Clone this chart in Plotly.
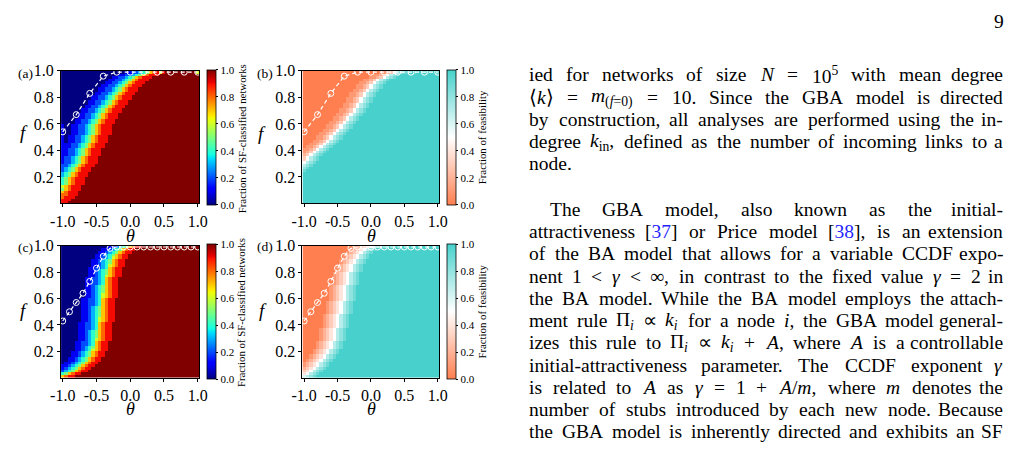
import re
import plotly.graph_objects as go

W_PX, H_PX = 1023, 449
SERIF = "Liberation Serif"

# ---------------- data ----------------
# grid of the heat maps: theta (columns) and f (rows, bottom to top)
THETA = [round(-1.0 + 0.05 * j, 2) for j in range(41)]
F_ROWS = [round(0.01 + 0.02 * i, 2) for i in range(50)]

# each row: (number of leading 0.0 cells, explicit cell codes); remaining cells are 1.0
# codes: '0'..'9' -> 0.0..0.9, 'X' -> 1.0
LEVEL = {"0": 0.0, "1": 0.1, "2": 0.2, "3": 0.3, "4": 0.4, "5": 0.5,
         "6": 0.6, "7": 0.7, "8": 0.8, "9": 0.9, "X": 1.0}

SF_A_ROWS = [
    (0, "99"), (0, "999"), (0, "8999"), (0, "88999"), (0, "78999"),
    (0, "578999"), (0, "678999"), (0, "4578999"), (0, "4578999"), (0, "4578999"),
    (0, "34578999"), (0, "34578999"), (0, "234578999"), (0, "234578999"), (0, "2234578999"),
    (0, "12234578999"), (0, "12234578999"), (0, "12234578999"), (0, "112234578999"), (0, "112234578999"),
    (0, "112234578999"), (0, "1112234578999"), (0, "1112234578999"), (0, "10112234578999"), (0, "10112234578999"),
    (0, "10112234578999"), (0, "100112234578999"), (0, "100112234578999"), (0, "100112234578999"), (0, "100112234578999"),
    (4, "112234578999"), (4, "112234578999"), (5, "112234578999"), (5, "112234578999"), (6, "112234578999"),
    (6, "112234578999"), (7, "112234578999"), (8, "112234578999"), (8, "112234578999"), (9, "112234578999"),
    (9, "112234578999"), (10, "112234578999"), (11, "112234578999"), (11, "112234578999"), (12, "112234578999"),
    (13, "112234578999"), (14, "112234578999"), (15, "112234578999"), (17, "112234578999"),
    (19, "112234578969XXXXXXXXX6"),
]

FEAS_B_ROWS = [
    (0, ""), (0, ""), (0, ""), (0, ""), (0, ""),
    (0, ""), (0, ""), (0, ""), (0, ""), (0, ""),
    (0, ""), (0, ""), (0, "9"), (0, "89"), (0, "789"),
    (0, "5789"), (0, "35789"), (0, "35789"), (0, "235789"), (0, "1235789"),
    (0, "11235789"), (1, "11235789"), (2, "11235789"), (3, "11235789"), (4, "11235789"),
    (4, "11235789"), (5, "11235789"), (6, "11235789"), (7, "11235789"), (7, "11235789"),
    (8, "11235789"), (9, "11235789"), (9, "11235789"), (10, "11235789"), (11, "11235789"),
    (11, "11235789"), (12, "11235789"), (12, "11235789"), (13, "11235789"), (13, "11235789"),
    (14, "11235789"), (14, "11235789"), (15, "11235789"), (16, "11235789"), (16, "11235789"),
    (17, "11235789"), (18, "11235789"), (20, "11235789"), (21, "11235789"),
    (23, "112357899X9XXX9XX9"),
]

SF_C_ROWS = [
    (0, "7899"), (0, "457899"), (0, "23457899"), (0, "123457899"), (0, "1123457899"),
    (1, "1123457899"), (2, "1123457899"), (2, "1123457899"), (3, "1123457899"), (3, "1123457899"),
    (4, "1123467899"), (4, "1123457899"), (4, "1122347899"), (4, "1122347899"), (5, "1123467899"),
    (5, "1123457899"), (5, "1123457899"), (5, "1123457899"), (5, "1122347899"), (5, "1122347899"),
    (5, "1122347899"), (6, "1123467899"), (6, "1123467899"), (6, "1123457899"), (6, "1123457899"),
    (6, "1123457899"), (6, "1123457899"), (6, "1122347899"), (6, "1122347899"), (6, "1122347899"),
    (7, "1123467899"), (7, "1123467899"), (7, "1123457899"), (7, "1123457899"), (7, "1123457899"),
    (7, "1122347899"), (7, "1122347899"), (7, "1122347899"), (8, "1123467899"), (8, "1123457899"),
    (8, "1123457899"), (8, "1122347899"), (9, "1123467899"), (9, "1123457899"), (9, "1123457899"),
    (10, "1123467899"), (10, "1123457899"), (11, "1123457899"), (12, "1123457899"),
    (14, "1123457899"),
]

FEAS_D_ROWS = [
    (0, "6789"), (0, "45789"), (0, "345789"), (0, "2345789"), (0, "12345789"),
    (0, "12345789"), (1, "12345789"), (2, "12345789"), (2, "12345789"), (3, "12345789"),
    (3, "12345789"), (4, "12345789"), (4, "12345789"), (4, "12345789"), (5, "12345789"),
    (5, "12345789"), (5, "12345789"), (5, "12345789"), (5, "12345789"), (6, "12345789"),
    (6, "12345789"), (6, "12345789"), (6, "12345789"), (6, "12345789"), (7, "12345789"),
    (7, "12345789"), (7, "12345789"), (7, "12345789"), (7, "12345789"), (8, "12345789"),
    (8, "12345789"), (8, "12345789"), (8, "12345789"), (8, "12345789"), (8, "12345789"),
    (9, "12345789"), (9, "12345789"), (9, "12345789"), (9, "12345789"), (9, "12345789"),
    (10, "12345789"), (10, "12345789"), (10, "12345789"), (11, "12345789"), (11, "12345789"),
    (12, "12345789"), (12, "12345789"), (13, "12345789"), (14, "12345789"),
    (16, "12345789"),
]

# dashed boundary lines with open circles
LINE_AB_THETA = [-1.0, -0.8, -0.6, -0.4, -0.2, 0.0, 0.2, 0.4, 0.6, 0.8, 1.0]
LINE_AB_F = [0.54, 0.67, 0.83, 0.96, 0.99, 0.99, 0.99, 0.99, 0.99, 0.99, 0.99]
LINE_CD_THETA = [-1.0, -0.9, -0.8, -0.7, -0.6, -0.5, -0.4, -0.3, -0.2, -0.1, 0.0,
                 0.1, 0.2, 0.3, 0.4, 0.5, 0.6, 0.7, 0.8, 0.9, 1.0]
LINE_CD_F = [0.43, 0.50, 0.57, 0.64, 0.73, 0.83, 0.92, 0.98, 0.99, 0.99, 0.99,
             0.99, 0.99, 0.99, 0.99, 0.99, 0.99, 0.99, 0.99, 0.99, 0.99]

X_TICKS = [-1.0, -0.5, 0.0, 0.5, 1.0]
X_TICK_TEXT = ["-1.0", "-0.5", "0.0", "0.5", "1.0"]
Y_TICKS = [0.2, 0.4, 0.6, 0.8, 1.0]
Y_TICK_TEXT = ["0.2", "0.4", "0.6", "0.8", "1.0"]
CB_TICKS = [0.0, 0.2, 0.4, 0.6, 0.8, 1.0]
CB_TICK_TEXT = ["0.0", "0.2", "0.4", "0.6", "0.8", "1.0"]

PAGE_NUMBER = "9"
PARA1 = [
    "ied for networks of size <i>N</i> = 10<sup>5</sup> with mean degree",
    "⟨<i>k</i>⟩ = <i>m</i><sub>(<i>f</i>=0)</sub> = 10. Since the GBA model is directed",
    "by construction, all analyses are performed using the in-",
    "degree <i>k</i><sub>in</sub>, defined as the number of incoming links to a",
    "node.",
]
PARA2 = [
    "The GBA model, also known as the initial-",
    "attractiveness [§37§] or Price model [§38§], is an extension",
    "of the BA model that allows for a variable CCDF expo-",
    "nent 1 &lt; <i>γ</i> &lt; ∞, in contrast to the fixed value <i>γ</i> = 2 in",
    "the BA model. While the BA model employs the attach-",
    "ment rule Π<sub><i>i</i></sub> ∝ <i>k</i><sub><i>i</i></sub> for a node <i>i</i>, the GBA model general-",
    "izes this rule to Π<sub><i>i</i></sub> ∝ <i>k</i><sub><i>i</i></sub> + <i>A</i>, where <i>A</i> is a controllable",
    "initial-attractiveness parameter. The CCDF exponent <i>γ</i>",
    "is related to <i>A</i> as <i>γ</i> = 1 + <i>A</i>/<i>m</i>, where <i>m</i> denotes the",
    "number of stubs introduced by each new node. Because",
    "the GBA model is inherently directed and exhibits an SF",
    "distribution in the in-degree, our analysis is normalized by",
]

# ---------------- styles ----------------
JET = [
    [0.0, "rgb(0,0,128)"], [0.11, "rgb(0,0,255)"], [0.125, "rgb(0,0,255)"],
    [0.34, "rgb(0,219,255)"], [0.35, "rgb(0,230,247)"], [0.375, "rgb(21,255,226)"],
    [0.64, "rgb(239,255,8)"], [0.65, "rgb(247,245,0)"], [0.66, "rgb(255,236,0)"],
    [0.89, "rgb(255,19,0)"], [0.91, "rgb(232,0,0)"], [1.0, "rgb(128,0,0)"],
]
FEAS = [[0.0, "#ff7f50"], [0.5, "#ffffff"], [1.0, "#48d1cc"]]


def px(x):
    return x / W_PX


def py(y):
    return 1 - y / H_PX


def expand(rows):
    z = []
    for k, s in rows:
        codes = "0" * k + s
        codes = codes + "X" * (len(THETA) - len(codes))
        z.append([LEVEL[c] for c in codes])
    return z


PANELS = [
    dict(label="(a)", rows=SF_A_ROWS, cs=JET, cbtitle="Fraction of SF-classified networks",
         lt=LINE_AB_THETA, lf=LINE_AB_F, box=(51, 192, 64, 199), cbx=200, lab=(14.5, 67),
         flab=(13, 127), thlab=(122, 232), cbt=(235, 133)),
    dict(label="(b)", rows=FEAS_B_ROWS, cs=FEAS, cbtitle="Fraction of feasibility",
         lt=LINE_AB_THETA, lf=LINE_AB_F, box=(297, 436.5, 64, 199), cbx=444, lab=(258.5, 67),
         flab=(256, 128), thlab=(367, 232), cbt=(479.5, 132)),
    dict(label="(c)", rows=SF_C_ROWS, cs=JET, cbtitle="Fraction of SF-classified networks",
         lt=LINE_CD_THETA, lf=LINE_CD_F, box=(51, 192, 242, 376.5), cbx=200, lab=(14.5, 244),
         flab=(13, 308), thlab=(122, 408), cbt=(235, 310)),
    dict(label="(d)", rows=FEAS_D_ROWS, cs=FEAS, cbtitle="Fraction of feasibility",
         lt=LINE_CD_THETA, lf=LINE_CD_F, box=(297, 436.5, 242, 376.5), cbx=444, lab=(258.5, 243),
         flab=(257, 308), thlab=(367, 408), cbt=(480, 309)),
]

fig = go.Figure()
annotations = []
layout_axes = {}
tickfont = dict(family=SERIF, size=16, color="black")

for n, p in enumerate(PANELS, start=1):
    xa = "x" if n == 1 else f"x{n}"
    ya = "y" if n == 1 else f"y{n}"
    x0, x1, y0, y1 = p["box"]
    fig.add_trace(go.Heatmap(
        x=THETA, y=F_ROWS, z=expand(p["rows"]), zmin=0, zmax=1, colorscale=p["cs"],
        xaxis=xa, yaxis=ya, hoverinfo="skip",
        colorbar=dict(
            x=px(p["cbx"]), xanchor="left", xref="paper", y=py((y0 + y1) / 2), yanchor="middle",
            len=(y1 - y0), lenmode="pixels", thickness=9, thicknessmode="pixels",
            xpad=0, ypad=0, outlinewidth=0.8, outlinecolor="black",
            tickmode="array", tickvals=CB_TICKS, ticktext=CB_TICK_TEXT,
            ticks="outside", ticklen=2.5, tickwidth=0.8, tickcolor="black",
            tickfont=dict(family=SERIF, size=11, color="black"),
        ),
    ))
    fig.add_trace(go.Scatter(
        x=p["lt"], y=p["lf"], mode="lines+markers", xaxis=xa, yaxis=ya,
        line=dict(color="white", width=1.2, dash="4px,3px"),
        marker=dict(symbol="circle-open", size=6, color="white", line=dict(width=1, color="white")),
        cliponaxis=False, showlegend=False, hoverinfo="skip",
    ))
    axcommon = dict(ticks="outside", ticklen=3, tickwidth=1, tickcolor="black", showline=True,
                    linecolor="black", linewidth=1, mirror=True, showgrid=False, zeroline=False,
                    tickfont=tickfont, tickmode="array", fixedrange=True)
    layout_axes["xaxis" if n == 1 else f"xaxis{n}"] = dict(
        domain=[px(x0), px(x1)], range=[-1.025, 1.025], tickvals=X_TICKS, ticktext=X_TICK_TEXT,
        anchor=ya, **axcommon)
    layout_axes["yaxis" if n == 1 else f"yaxis{n}"] = dict(
        domain=[py(y1), py(y0)], range=[0, 1], tickvals=Y_TICKS, ticktext=Y_TICK_TEXT,
        anchor=xa, **axcommon)

    def ann(text, x, y, size, **kw):
        d = dict(text=text, x=px(x), y=py(y), xref="paper", yref="paper", showarrow=False,
                 xanchor="center", yanchor="middle", borderpad=0,
                 font=dict(family=SERIF, size=size, color="black"))
        d.update(kw)
        annotations.append(d)

    ann(p["label"], p["lab"][0], p["lab"][1], 13.5)
    ann("<i>f</i>", p["flab"][0], p["flab"][1], 19)
    ann("<i>θ</i>", p["thlab"][0], p["thlab"][1], 18)
    ann(p["cbtitle"], p["cbt"][0], p["cbt"][1], 10.8, textangle=-90)

# ---------------- page text ----------------
CHAR_W = {" ": 250, "a": 444, "b": 500, "c": 444, "d": 500, "e": 444, "f": 333, "g": 500, "h": 500,
          "i": 278, "j": 278, "k": 500, "l": 278, "m": 778, "n": 500, "o": 500, "p": 500, "q": 500,
          "r": 333, "s": 389, "t": 278, "u": 500, "v": 500, "w": 722, "x": 500, "y": 500, "z": 444,
          "A": 722, "B": 667, "C": 667, "D": 722, "E": 611, "F": 556, "G": 722, "H": 722, "I": 333,
          "J": 389, "K": 722, "L": 611, "M": 889, "N": 722, "O": 722, "P": 556, "Q": 722, "R": 667,
          "S": 556, "T": 611, "U": 722, "V": 722, "W": 944, "X": 722, "Y": 722, "Z": 611,
          ".": 250, ",": 250, "-": 333, "(": 333, ")": 333, "[": 333, "]": 333, "=": 564, "<": 564,
          "+": 564, "/": 278, "γ": 411, "∞": 713, "∝": 713, "Π": 722, "⟨": 390, "⟩": 390}
for dgt in "0123456789":
    CHAR_W[dgt] = 500

BODY = 19.5
LINK = "<span style='color:#2424ff'>{}</span>"


def text_width(html, size):
    total, scale = 0.0, 1.0
    for part in re.split(r"(<[^>]*>)", html):
        if part.startswith("<") and part.endswith(">"):
            tag = part[1:-1].strip().lstrip("/").split(" ")[0].lower()
            if tag in ("sub", "sup"):
                scale = 1.0 if part[1] == "/" else 0.7
            continue
        part = part.replace("&lt;", "<").replace("&gt;", ">")
        for ch in part:
            total += CHAR_W.get(ch, 500) * scale
    return total * size / 1000.0


def place_line(text, y, x_left, x_right, justify):
    toks = [re.sub(r"§(\d+)§", lambda m: LINK.format(m.group(1)), t) for t in text.split(" ")]
    widths = [text_width(t, BODY) for t in toks]
    if justify and len(toks) > 1:
        gap = (x_right - x_left - sum(widths)) / (len(toks) - 1)
    else:
        gap = 250 * BODY / 1000.0
    x = x_left
    for idx, (t, w) in enumerate(zip(toks, widths)):
        last = justify and idx == len(toks) - 1
        annotations.append(dict(
            text=t, x=px(x_right if last else x), y=py(y), xref="paper", yref="paper",
            showarrow=False, xanchor="right" if last else "left", yanchor="middle", borderpad=0,
            font=dict(family=SERIF, size=BODY, color="black")))
        x += w + gap


TEXT_LEFT, TEXT_RIGHT, INDENT = 527, 1012, 548
LINE_STEP = 22.65
for k, line in enumerate(PARA1):
    place_line(line, 68 + LINE_STEP * k, TEXT_LEFT, TEXT_RIGHT, k < len(PARA1) - 1)
for k, line in enumerate(PARA2):
    extra = 2.5 if k == len(PARA2) - 1 else 0.0
    place_line(line, 205 + LINE_STEP * k + extra, INDENT if k == 0 else TEXT_LEFT, TEXT_RIGHT, True)

annotations.append(dict(text=PAGE_NUMBER, x=px(1007), y=py(14), xref="paper", yref="paper",
                        showarrow=False, xanchor="center", yanchor="middle", borderpad=0,
                        font=dict(family=SERIF, size=BODY, color="black")))

fig.update_layout(
    width=W_PX, height=H_PX, autosize=False,
    margin=dict(l=0, r=0, t=0, b=0, pad=0),
    paper_bgcolor="white", plot_bgcolor="white",
    showlegend=False, annotations=annotations, **layout_axes,
)

fig.write_html("out.html")
